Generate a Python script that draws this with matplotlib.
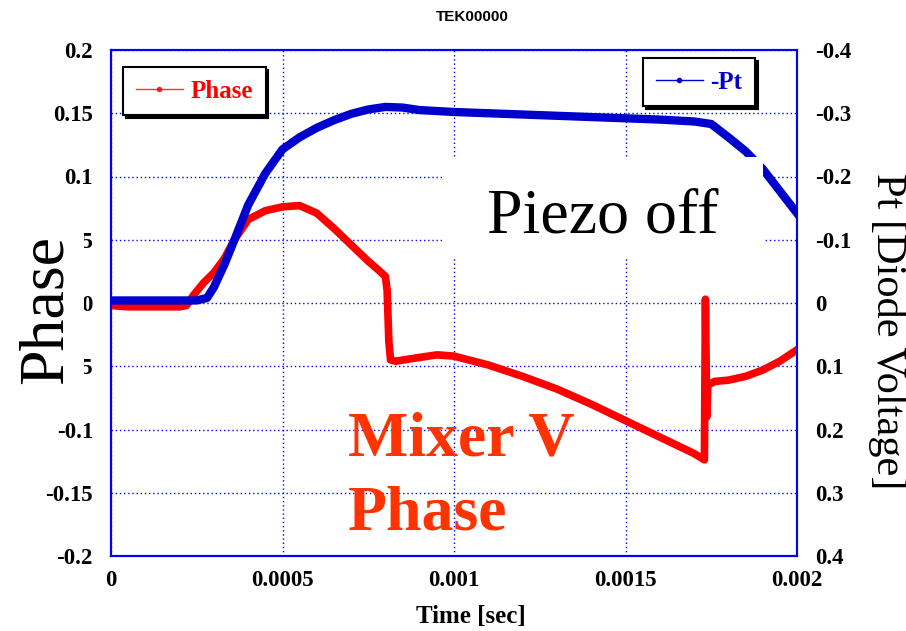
import matplotlib
matplotlib.use("Agg")
import matplotlib.pyplot as plt
from matplotlib.lines import Line2D
from matplotlib.patches import Rectangle
from matplotlib.ticker import FixedLocator, FixedFormatter

# ---- data -------------------------------------------------------------
phase_t = [0.0, 0.00005, 0.0001, 0.00015, 0.0002, 0.00022, 0.00024, 0.00027,
           0.0003, 0.00033, 0.00036, 0.0004, 0.00045, 0.0005, 0.00055, 0.0006,
           0.00065, 0.0007, 0.00075, 0.00078, 0.0008, 0.000805, 0.00081,
           0.000815, 0.00083, 0.0009, 0.00095, 0.001, 0.0011, 0.0012, 0.0013,
           0.0014, 0.0015, 0.0016, 0.0017, 0.00173, 0.001733, 0.001737,
           0.00174, 0.00176, 0.0018, 0.00185, 0.0019, 0.00195, 0.002]
phase_v = [-0.002, -0.003, -0.003, -0.003, -0.003, -0.002, 0.006, 0.016,
           0.024, 0.035, 0.050, 0.066, 0.073, 0.076, 0.077, 0.071,
           0.059, 0.046, 0.033, 0.026, 0.021, 0.010, -0.030,
           -0.045, -0.046, -0.043, -0.041, -0.042, -0.049, -0.058, -0.068,
           -0.080, -0.093, -0.106, -0.119, -0.124, 0.003, -0.090,
           -0.065, -0.062, -0.061, -0.058, -0.053, -0.046, -0.037]

pt_t = [0.0, 0.0001, 0.0002, 0.00025, 0.00028, 0.0003, 0.00033, 0.00036,
        0.0004, 0.00045, 0.0005, 0.00055, 0.0006, 0.00065, 0.0007, 0.00075,
        0.0008, 0.00085, 0.0009, 0.001, 0.0011, 0.0012, 0.0013, 0.0014,
        0.0015, 0.0016, 0.0017, 0.00175, 0.0018, 0.00185, 0.0019, 0.00195,
        0.002]
pt_v = [-0.004, -0.004, -0.004, -0.004, -0.008, -0.025, -0.060, -0.100,
        -0.155, -0.205, -0.243, -0.262, -0.277, -0.289, -0.299, -0.306,
        -0.310, -0.309, -0.305, -0.302, -0.300, -0.298, -0.296, -0.294,
        -0.292, -0.290, -0.287, -0.283, -0.262, -0.240, -0.212, -0.177,
        -0.142]

x_ticks = [0, 0.0005, 0.001, 0.0015, 0.002]
x_labels = ["0", "0.0005", "0.001", "0.0015", "0.002"]
left_ticks = [-0.2, -0.15, -0.1, -0.05, 0, 0.05, 0.1, 0.15, 0.2]
left_labels = ["-0.2", "-0.15", "-0.1", "-0.05", "0", "0.05", "0.1", "0.15", "0.2"]
right_ticks = [-0.4, -0.3, -0.2, -0.1, 0, 0.1, 0.2, 0.3, 0.4]
right_labels = ["-0.4", "-0.3", "-0.2", "-0.1", "0", "0.1", "0.2", "0.3", "0.4"]

# ---- style ------------------------------------------------------------
SERIF = ["Liberation Serif", "DejaVu Serif"]
RED = "#FF0000"
BLUE = "#0000CC"
FRAME = "#0000FF"

fig = plt.figure(figsize=(9.06, 6.31), dpi=100)
ax1 = fig.add_axes([111 / 906, 1 - 556 / 631, 686 / 906, 506 / 631])
ax2 = ax1.twinx()

ax1.plot(phase_t, phase_v, color=RED, lw=5.5, solid_joinstyle="round", zorder=3)
ax2.plot(pt_t, pt_v, color=BLUE, lw=6, solid_joinstyle="round", zorder=3)

ax1.set_xlim(0, 0.002)
ax1.set_ylim(-0.2, 0.2)
ax2.set_ylim(0.4, -0.4)

ax1.xaxis.set_major_locator(FixedLocator(x_ticks))
ax1.xaxis.set_major_formatter(FixedFormatter(x_labels))
ax1.yaxis.set_major_locator(FixedLocator(left_ticks))
ax1.yaxis.set_major_formatter(FixedFormatter(left_labels))
ax2.yaxis.set_major_locator(FixedLocator(right_ticks))
ax2.yaxis.set_major_formatter(FixedFormatter(right_labels))
for lab in ax1.get_xticklabels() + ax1.get_yticklabels() + ax2.get_yticklabels():
    lab.set_fontfamily(SERIF)
    lab.set_fontweight("bold")
    lab.set_fontsize(16.5)
ax1.tick_params(axis="x", length=0, pad=10)
ax1.tick_params(axis="y", length=0, pad=13)
ax2.tick_params(axis="y", length=0, pad=13)

ax1.grid(True, color=FRAME, linestyle=(0, (1, 2)), linewidth=1.0)
for ax in (ax1, ax2):
    for sp in ax.spines.values():
        sp.set_color(FRAME)
        sp.set_linewidth(1.5)

# white panel carrying the annotation
ax2.add_patch(Rectangle((0.4825, 0.591), 0.4679, 0.1975, transform=ax2.transAxes,
                        facecolor="white", edgecolor="none", zorder=5))
ax2.text(0.7165, 0.6403, "Piezo off", transform=ax2.transAxes, ha="center",
         va="baseline", family=SERIF, fontsize=46, color="black", zorder=6)

# legends
h_phase = Line2D([], [], color=RED, lw=1, marker="o", ms=3, alpha=0.8)
h_pt = Line2D([], [], color=BLUE, lw=1, marker="o", ms=3)
shadow = {"color": "black", "alpha": 1.0}
leg1 = ax1.legend([h_phase], ["Phase"], loc="upper left",
                  bbox_to_anchor=(0.0175, 0.966), borderaxespad=0,
                  prop=dict(family=SERIF, weight="bold", size=18),
                  labelcolor=RED, fancybox=False, shadow=shadow,
                  edgecolor="black", framealpha=1, handlelength=1.9,
                  borderpad=0.5, handletextpad=0.3)
leg1.get_frame().set_linewidth(1.5)
leg2 = ax2.legend([h_pt], ["-Pt"], loc="upper right",
                  bbox_to_anchor=(0.9388, 0.984), borderaxespad=0,
                  prop=dict(family=SERIF, weight="bold", size=18),
                  labelcolor=BLUE, fancybox=False, shadow=shadow,
                  edgecolor="black", framealpha=1, handlelength=1.9,
                  borderpad=0.5, handletextpad=0.3)
leg2.get_frame().set_linewidth(1.5)
leg2.set_zorder(7)

# titles and axis labels
fig.text(472 / 906, 1 - 17 / 631, "TEK00000", ha="center", va="center",
         family=["Liberation Sans Narrow", "Liberation Sans"], weight="bold",
         fontsize=11)
fig.text(471 / 906, 1 - 623 / 631, "Time [sec]", ha="center", va="baseline",
         family=SERIF, weight="bold", fontsize=18)
fig.text(62 / 906, 1 - 309 / 631, "Phase", rotation=90, rotation_mode="anchor",
         ha="center", va="baseline", family=SERIF, fontsize=46,
         bbox=dict(boxstyle="square,pad=0.12", facecolor="white", edgecolor="none"))
fig.text(877 / 906, 1 - 331 / 631, "Pt [Diode Voltage]", rotation=270,
         rotation_mode="anchor", ha="center", va="baseline", family=SERIF,
         fontsize=30.5)

fig.text(348 / 906, 1 - 455 / 631, "Mixer V", ha="left", va="baseline",
         family=SERIF, weight="bold", fontsize=46, color="#FF3300")
fig.text(348 / 906, 1 - 530 / 631, "Phase", ha="left", va="baseline",
         family=SERIF, weight="bold", fontsize=46, color="#FF3300")

fig.savefig("out.png", dpi=100)
